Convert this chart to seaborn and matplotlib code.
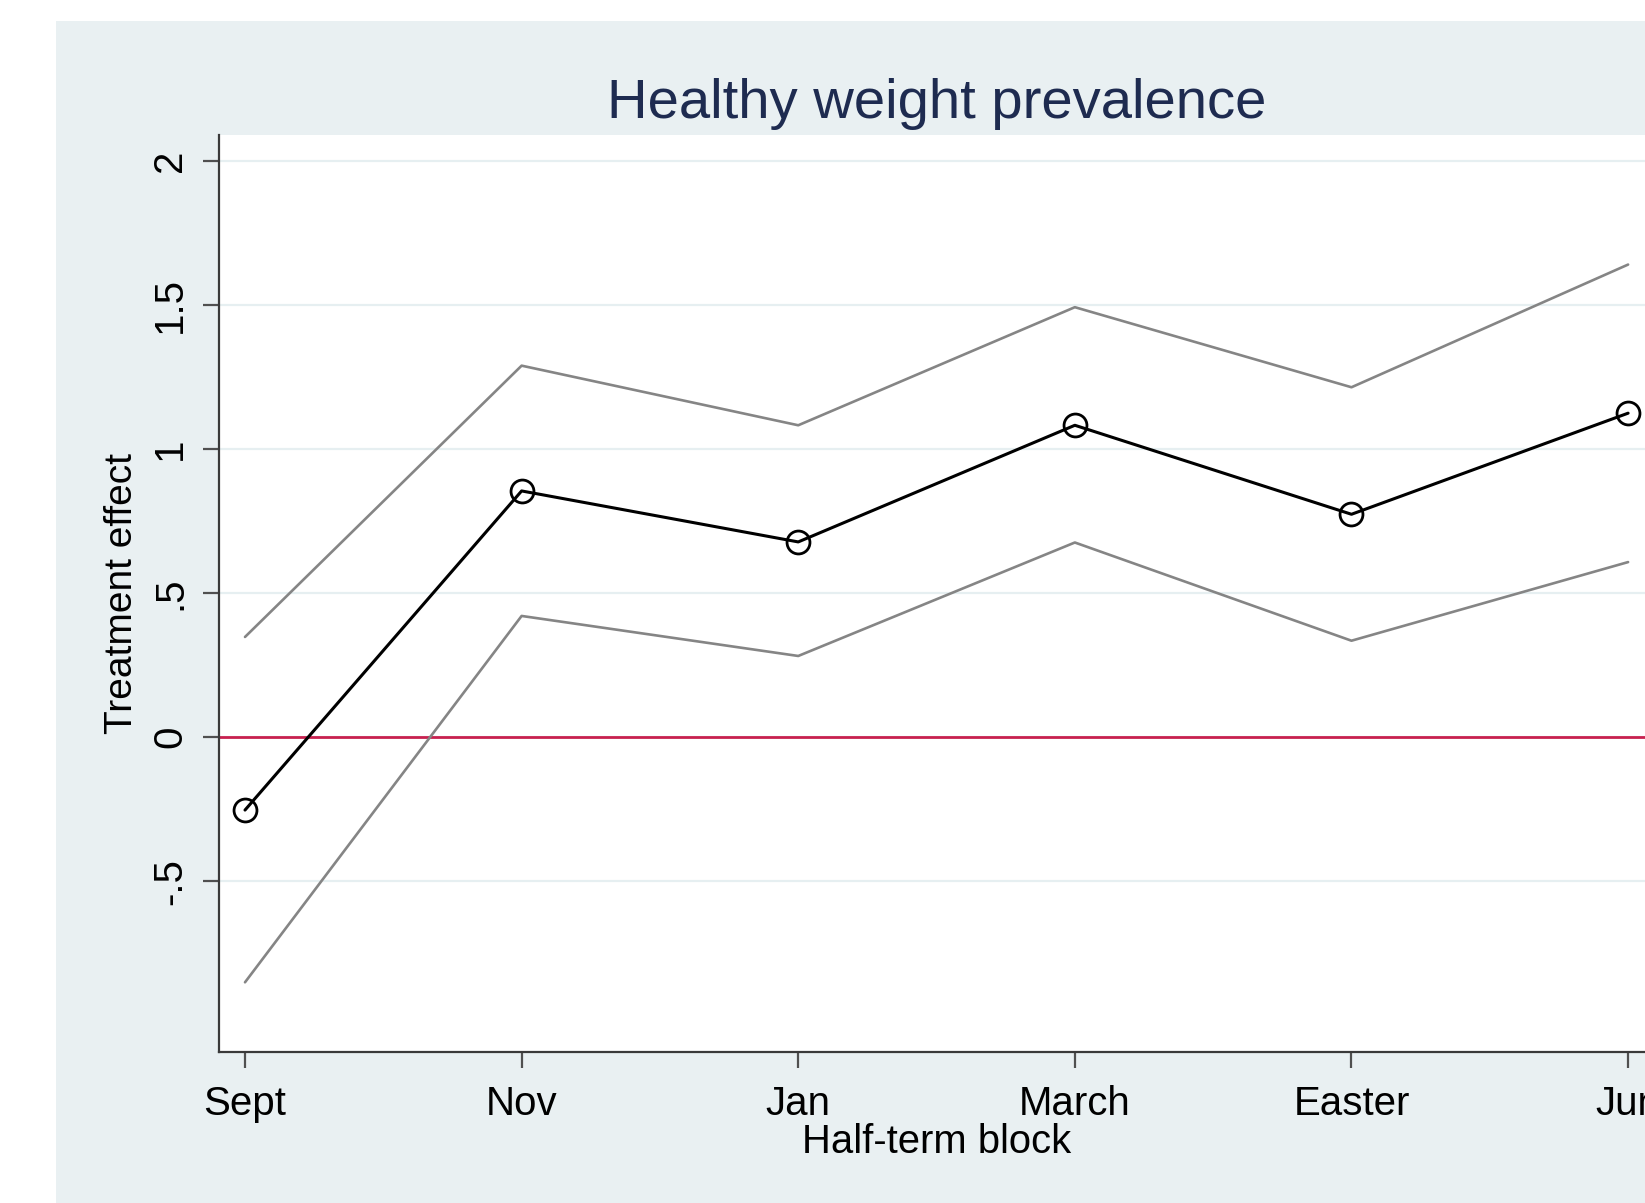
import matplotlib
matplotlib.use("Agg")
import matplotlib.pyplot as plt
import seaborn as sns
import pandas as pd
from matplotlib.patches import Rectangle

# Half-term blocks and estimated treatment effects with confidence bounds
blocks = ["Sept", "Nov", "Jan", "March", "Easter", "Jun"]
effect = [-0.253, 0.855, 0.678, 1.083, 0.774, 1.125]
upper = [0.348, 1.290, 1.083, 1.493, 1.215, 1.641]
lower = [-0.851, 0.421, 0.282, 0.676, 0.335, 0.608]
yticks = [-0.5, 0, 0.5, 1, 1.5, 2]
ytick_labels = ["-.5", "0", ".5", "1", "1.5", "2"]

df = pd.DataFrame({
    "pos": range(len(blocks)),
    "block": blocks,
    "effect": effect,
    "upper": upper,
    "lower": lower,
})

sns.set_theme(style="white")
plt.rcParams["font.family"] = ["Liberation Sans", "DejaVu Sans"]

BG = "#e9f0f2"
fig = plt.figure(figsize=(16.45, 12.03), dpi=100)
fig.patch.set_facecolor("white")
fig.add_artist(Rectangle((56 / 1645, 0), 1, 1 - 21 / 1203,
                         transform=fig.transFigure, facecolor=BG,
                         edgecolor="none", zorder=0))

ax = fig.add_axes([219 / 1645, 1 - 1052 / 1203, 0.8724, 0.7623])
ax.set_facecolor("white")

# horizontal grid
for yv in yticks:
    ax.axhline(yv, color="#e6eff1", lw=1.6, zorder=1)
ax.axhline(0, color="#c8204f", lw=2.0, zorder=2)

sns.lineplot(data=df, x="pos", y="upper", color="#858585", lw=1.9, ax=ax, zorder=3)
sns.lineplot(data=df, x="pos", y="lower", color="#858585", lw=1.9, ax=ax, zorder=3)
sns.lineplot(data=df, x="pos", y="effect", color="black", lw=2.2, ax=ax,
             marker="o", markersize=16.5, markerfacecolor="none",
             markeredgecolor="black", markeredgewidth=2.0, zorder=4)

ax.set_xlim(-0.094, 5.094)
ax.set_ylim(-1.093, 2.091)
ax.set_xticks(df["pos"])
ax.set_xticklabels(blocks)
ax.set_yticks(yticks)
ax.set_yticklabels(ytick_labels, rotation=90, va="center")

for side in ["top", "right"]:
    ax.spines[side].set_visible(False)
for side in ["left", "bottom"]:
    ax.spines[side].set_color("#3a3a3a")
    ax.spines[side].set_linewidth(1.6)

ax.tick_params(axis="both", which="major", length=11.5, width=1.6,
               color="#505050", labelcolor="black", labelsize=29,
               left=True, bottom=True)
ax.tick_params(axis="x", pad=12)
ax.tick_params(axis="y", pad=10)

ax.set_xlabel("Half-term block", fontsize=28.8, color="black", labelpad=0)
ax.set_ylabel("Treatment effect", fontsize=28, color="black", labelpad=8)

fig.text(937 / 1645, 1 - 118 / 1203, "Healthy weight prevalence",
         ha="center", va="baseline", fontsize=40.5, color="#1e2b50")

fig.savefig("out.png", dpi=100, facecolor=fig.get_facecolor())
